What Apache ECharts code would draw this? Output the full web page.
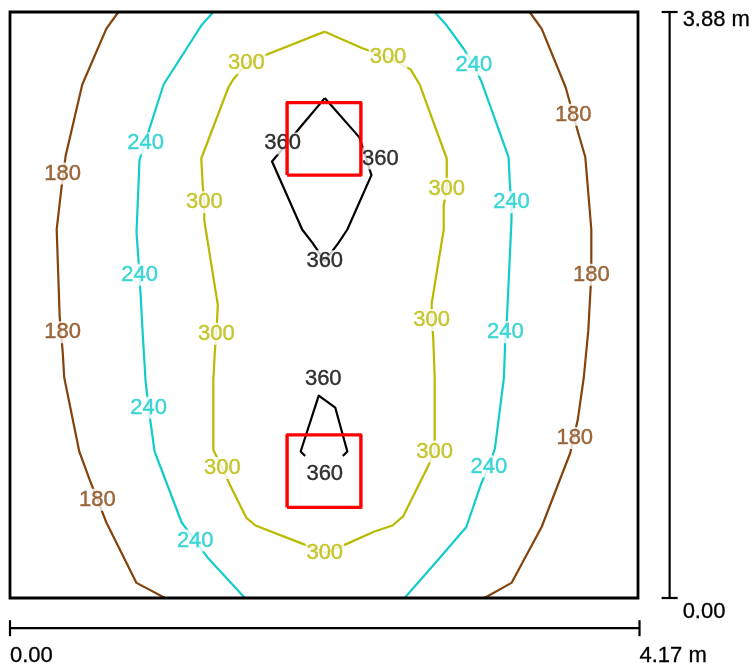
<!DOCTYPE html>
<html><head><meta charset="utf-8">
<script src="https://cdn.jsdelivr.net/npm/echarts/dist/echarts.min.js"></script>
<style>html,body{margin:0;padding:0;background:#fff}#c{width:755px;height:665px}</style>
</head><body><div id="c"></div>
<script>
// Room size (m)
const roomWidth = 4.17;
const roomDepth = 3.88;
const widthLabel = '4.17 m';
const depthLabel = '3.88 m';
const zeroLabel = '0.00';

// Isolines (lux) – points in metres
const iso180Left = [[0.72,3.88],[0.64,3.77],[0.48,3.40],[0.37,2.93],[0.34,2.70],[0.31,2.44],[0.33,1.86],[0.35,1.63],[0.36,1.46],[0.46,0.97],[0.53,0.78],[0.64,0.50],[0.84,0.10],[1.03,0]];
const iso180Right = [[3.45,3.88],[3.53,3.77],[3.69,3.38],[3.77,3.09],[3.82,2.92],[3.86,2.44],[3.86,2.14],[3.84,1.77],[3.81,1.46],[3.77,1.18],[3.72,0.96],[3.53,0.47],[3.33,0.10],[3.15,0]];
const iso240Left = [[1.35,3.88],[1.27,3.79],[1.02,3.40],[0.93,3.12],[0.86,2.90],[0.84,2.42],[0.86,2.14],[0.88,1.77],[0.90,1.44],[0.92,1.26],[0.96,0.97],[1.14,0.50],[1.23,0.38],[1.31,0.27],[1.56,0]];
const iso240Right = [[2.82,3.88],[2.90,3.79],[3.01,3.64],[3.08,3.53],[3.13,3.42],[3.31,2.92],[3.32,2.73],[3.33,2.62],[3.33,2.50],[3.30,1.86],[3.29,1.76],[3.28,1.46],[3.22,0.99],[3.18,0.87],[3.13,0.76],[3.03,0.47],[2.84,0.25],[2.62,0]];
const iso300 = [[2.09,3.75],[1.71,3.60],[1.57,3.54],[1.48,3.43],[1.45,3.38],[1.27,2.91],[1.28,2.73],[1.29,2.62],[1.29,2.50],[1.38,1.94],[1.37,1.75],[1.36,1.63],[1.35,1.44],[1.35,0.98],[1.41,0.86],[1.46,0.75],[1.57,0.53],[1.63,0.48],[1.94,0.36],[2.09,0.30],[2.24,0.36],[2.42,0.44],[2.54,0.48],[2.61,0.54],[2.77,0.86],[2.82,0.97],[2.82,1.08],[2.82,1.46],[2.81,1.73],[2.80,1.84],[2.80,1.95],[2.88,2.44],[2.88,2.60],[2.90,2.71],[2.90,2.83],[2.90,2.91],[2.72,3.40],[2.66,3.50],[2.51,3.58],[2.34,3.64],[2.09,3.75]];
const iso360Top = [[2.09,3.31],[1.93,3.12],[1.74,2.89],[1.94,2.44],[2.01,2.35],[2.09,2.23],[2.18,2.35],[2.24,2.44],[2.40,2.80],[2.32,3.05],[2.09,3.31]];
const iso360Bottom = [[1.96,0.94],[1.93,0.97],[2.05,1.34],[2.16,1.26],[2.24,0.97],[2.21,0.94]];

// Label positions per level
const labels180 = [[0.35,2.81],[0.35,1.76],[0.58,0.65],[3.74,3.20],[3.86,2.14],[3.75,1.06]];
const labels240 = [[0.90,3.01],[0.86,2.14],[0.92,1.26],[1.23,0.38],[3.08,3.53],[3.33,2.62],[3.29,1.76],[3.18,0.87]];
const labels300 = [[1.57,3.54],[1.29,2.62],[1.37,1.75],[1.41,0.86],[2.09,0.30],[2.82,0.97],[2.80,1.84],[2.90,2.71],[2.51,3.58]];
const labels360 = [[1.81,3.01],[2.09,2.23],[2.46,2.91],[2.08,1.45],[2.09,0.82]];

// Luminaires (rectangles, metres)
const lumTop = [[1.84,2.80],[2.33,2.80],[2.33,3.28],[1.84,3.28],[1.84,2.80]];
const lumBottom = [[1.84,0.60],[2.33,0.60],[2.33,1.08],[1.84,1.08],[1.84,0.60]];

// Dimension bars (metres, outside the room)
const dimVX = 4.38;
const dimHY = -0.20;
const dimHEnd = 4.18;

const FONT = 'Liberation Sans, Arial, sans-serif';
const colors = {180:'#84430c', 240:'#12cccc', 300:'#b9b900', 360:'#000000'};

function lineS(data, color, width, z) {
  return {type:'line', data, showSymbol:false, symbol:'none', silent:true, animation:false,
    z: z || 2, lineStyle:{color, width: width || 2.2, join:'round'}};
}
function labelS(data, level) {
  return {type:'scatter', data, symbolSize:1, silent:true, animation:false, z:5,
    itemStyle:{color:'rgba(0,0,0,0)'},
    label:{show:true, position:'inside', formatter: String(level), color: colors[level],
      fontSize:22, fontFamily:FONT, backgroundColor:'#fff', padding:[0,1],
      textBorderColor: colors[level], textBorderWidth:0.4}};
}

const chart = echarts.init(document.getElementById('c'), null, {renderer:'canvas'});
const series = [
  lineS(iso180Left, colors[180]), lineS(iso180Right, colors[180]),
  lineS(iso240Left, colors[240]), lineS(iso240Right, colors[240]),
  lineS(iso300, colors[300]),
  lineS(iso360Top, colors[360]), lineS(iso360Bottom, colors[360]),
  labelS(labels180,180), labelS(labels240,240), labelS(labels300,300), labelS(labels360,360),
  lineS(lumTop, '#ff0000', 3.4, 8), lineS(lumBottom, '#ff0000', 3.4, 8)
];
chart.setOption({
  animation:false,
  backgroundColor:'#fff',
  grid:{left:10, top:12, width:628, height:586, show:false},
  xAxis:{type:'value', min:0, max:roomWidth, show:false},
  yAxis:{type:'value', min:0, max:roomDepth, show:false},
  series
});
const p = (pt) => chart.convertToPixel({gridIndex:0}, pt);
const o = p([0,0]), c = p([roomWidth, roomDepth]);
const vx = p([dimVX, 0])[0];
const hy = p([0, dimHY])[1];
const hx2 = p([dimHEnd, 0])[0];
const ln = (x1,y1,x2,y2,w) => ({type:'line', silent:true, z:20,
  shape:{x1,y1,x2,y2}, style:{stroke:'#000', lineWidth:w||2.2}});
const txt = (x, y, text) => ({type:'text', x, y, silent:true, z:20,
  style:{text, fill:'#000', font:'22px ' + FONT, textAlign:'left', textVerticalAlign:'middle',
    stroke:'#000', lineWidth:0.3}});
chart.setOption({graphic:[
  {type:'rect', silent:true, z:20, shape:{x:o[0], y:c[1], width:c[0]-o[0], height:o[1]-c[1]},
    style:{fill:null, stroke:'#000', lineWidth:2.8}},
  ln(vx, c[1], vx, o[1]), ln(vx-8, c[1], vx+8, c[1]), ln(vx-8, o[1], vx+8, o[1]),
  ln(o[0], hy, hx2, hy), ln(o[0], hy-8, o[0], hy+8), ln(hx2, hy-8, hx2, hy+8),
  txt(vx + 13, c[1] + 8, depthLabel),
  txt(vx + 13, o[1] + 14, zeroLabel),
  txt(o[0], hy + 28, zeroLabel),
  txt(hx2, hy + 28, widthLabel)
]});
</script></body></html>
